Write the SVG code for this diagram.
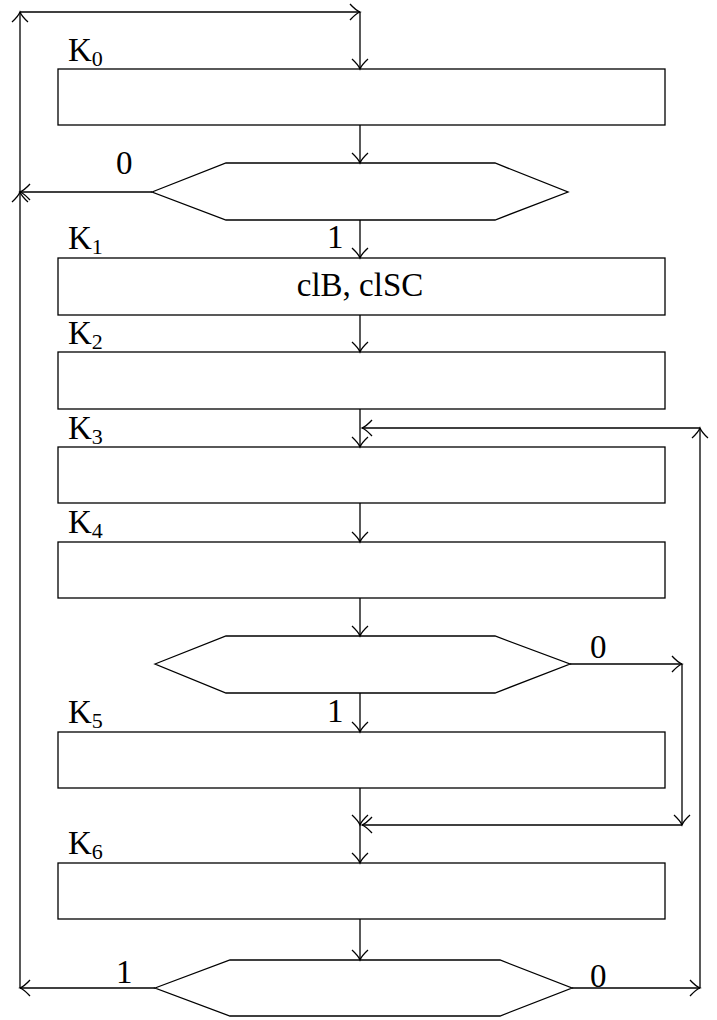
<svg xmlns="http://www.w3.org/2000/svg" width="717" height="1020" viewBox="0 0 717 1020">
<style>
.box{fill:#fff;stroke:#000;stroke-width:1.3}
.c line{stroke:#000;stroke-width:1.3;fill:none;marker-end:url(#a)}
text{font-family:"Liberation Serif","Times New Roman",serif;font-size:33px;fill:#000}
.s{font-size:22px}
</style>
<defs>
<marker id="a" markerUnits="userSpaceOnUse" markerWidth="24" markerHeight="24" viewBox="-14 -12 16 24" refX="0" refY="0" orient="auto">
<path d="M-10,-8 Q-4,-1.5 0,0 Q-4,1.5 -10,8" fill="none" stroke="#000" stroke-width="1.3"/>
</marker>
</defs>
<rect width="717" height="1020" fill="#fff"/>
<g id="K0"><rect class="box" x="58" y="69" width="607" height="56"/><text x="68" y="61">K<tspan class="s" dy="5">0</tspan></text></g>
<g id="D1"><polygon class="box" points="152,192 226,163 495,163 568,192 495,220 226,220"/></g>
<g id="K1"><rect class="box" x="58" y="258" width="607" height="57"/><text x="68" y="249">K<tspan class="s" dy="5">1</tspan></text><text x="360" y="296" text-anchor="middle">clB, clSC</text></g>
<g id="K2"><rect class="box" x="58" y="352" width="607" height="57"/><text x="68" y="344">K<tspan class="s" dy="5">2</tspan></text></g>
<g id="K3"><rect class="box" x="58" y="447" width="607" height="56"/><text x="68" y="439">K<tspan class="s" dy="5">3</tspan></text></g>
<g id="K4"><rect class="box" x="58" y="542" width="607" height="56"/><text x="68" y="533">K<tspan class="s" dy="5">4</tspan></text></g>
<g id="D2"><polygon class="box" points="155,664 226,636 495,636 570,664 495,693 226,693"/></g>
<g id="K5"><rect class="box" x="58" y="732" width="607" height="56"/><text x="68" y="723">K<tspan class="s" dy="5">5</tspan></text></g>
<g id="K6"><rect class="box" x="58" y="863" width="607" height="56"/><text x="68" y="854">K<tspan class="s" dy="5">6</tspan></text></g>
<g id="D3"><polygon class="box" points="155,988 230,960 500,960 572,988 500,1016 230,1016"/></g>
<g id="connectors" class="c">
<line x1="20" y1="988" x2="20" y2="192"/>
<line x1="20" y1="192" x2="20" y2="12"/>
<line x1="20" y1="12" x2="360" y2="12"/>
<line x1="360" y1="12" x2="360" y2="69"/>
<line x1="360" y1="125" x2="360" y2="163"/>
<line x1="152" y1="192" x2="20" y2="192"/>
<line x1="360" y1="220" x2="360" y2="258"/>
<line x1="360" y1="315" x2="360" y2="352"/>
<line x1="360" y1="409" x2="360" y2="447"/>
<line x1="700" y1="988" x2="700" y2="428"/>
<line x1="700" y1="428" x2="362" y2="428"/>
<line x1="360" y1="503" x2="360" y2="542"/>
<line x1="360" y1="598" x2="360" y2="636"/>
<line x1="570" y1="664" x2="682" y2="664"/>
<line x1="682" y1="664" x2="682" y2="825"/>
<line x1="682" y1="825" x2="362" y2="825"/>
<line x1="360" y1="693" x2="360" y2="732"/>
<line x1="360" y1="788" x2="360" y2="825"/>
<line x1="360" y1="825" x2="360" y2="863"/>
<line x1="360" y1="919" x2="360" y2="960"/>
<line x1="155" y1="988" x2="20" y2="988"/>
<line x1="572" y1="988" x2="700" y2="988"/>
</g>
<g id="labels">
<text x="116" y="174">0</text>
<text x="327" y="248">1</text>
<text x="590" y="658">0</text>
<text x="327" y="722">1</text>
<text x="116" y="983">1</text>
<text x="590" y="987">0</text>
</g>
</svg>
